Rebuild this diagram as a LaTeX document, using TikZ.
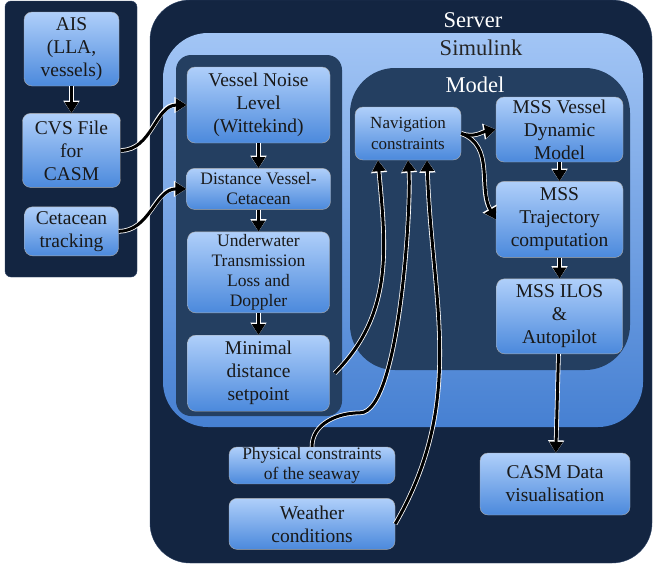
\documentclass[tikz,border=0pt]{standalone}
\usepackage{fontspec}
\setmainfont{Liberation Serif}
\usepackage{xcolor}
\usetikzlibrary{arrows.meta,positioning}

\definecolor{navy}{HTML}{132541}
\definecolor{navyrim}{HTML}{2E4466}
\definecolor{panel}{HTML}{243F61}
\definecolor{simtop}{HTML}{A2C5F5}
\definecolor{simbot}{HTML}{4680D2}
\definecolor{nodetop}{HTML}{AFCFFA}
\definecolor{nodebot}{HTML}{4B89DC}

\begin{document}
\begin{tikzpicture}[
      x=1pt, y=1pt,
      node distance=22pt and 30pt,
      box/.style={draw=gray!65, rounded corners=8pt, top color=nodetop, bottom color=nodebot, align=center, inner sep=0.5pt, text=black!90},
      big/.style={box, font=\fontsize{19.5}{23}\selectfont},
      small/.style={box, font=\fontsize{17.5}{20}\selectfont},
      title/.style={font=\fontsize{22.5}{26}\selectfont},
      halo/.style={-{Triangle[length=12.5pt,width=15.5pt]}, draw=white, line width=4.6pt},
      arr/.style={-{Triangle[length=11pt,width=13pt]}, draw=black, line width=3pt},
    ]
    \useasboundingbox[fill=white] (0,0) rectangle (653,-565);
    % panels
    \fill[navy, draw=navyrim, rounded corners=6pt] (5,-1) rectangle (137,-277);
    \fill[navy, draw=navyrim, rounded corners=40pt] (150,0) rectangle (652,-563);
    \shade[top color=simtop, bottom color=simbot, rounded corners=45pt] (163,-33) rectangle (643,-427);
    \fill[panel, rounded corners=15pt] (176,-55) rectangle (342,-416);
    \fill[panel, rounded corners=45pt] (350,-68) rectangle (630,-370);
    \node[title, text=white] (server) at (473,-20) {Server};
    \node[title, text=black!85] (simulink) at (481,-48) {Simulink};
    \node[title, text=white] (model) at (475,-85) {Model};
    % inputs
    \node[big, minimum width=95pt, minimum height=74pt] (ais) at (71.5,-49) {AIS\\(LLA,\\vessels)};
    \node[big, minimum width=98pt, minimum height=74pt, below=27pt of ais] (cvs) {CVS File\\for\\CASM};
    \node[big, minimum width=94pt, minimum height=49pt, below=19pt of cvs] (cet) {Cetacean\\tracking};
    % vessel chain
    \node[big, minimum width=143pt, minimum height=76pt] (noise) at (258.5,-105) {Vessel Noise\\Level\\(Wittekind)};
    \node[small, minimum width=144pt, minimum height=41pt, below=25pt of noise] (dist) {Distance Vessel-\\Cetacean};
    \node[small, minimum width=142pt, minimum height=81pt, below=of dist] (under) {Underwater\\Transmission\\Loss and\\Doppler};
    \node[big, minimum width=142pt, minimum height=76pt, below=of under] (minimal) {Minimal\\distance\\setpoint};
    % model
    \node[small, font=\fontsize{17}{21}\selectfont, minimum width=106pt, minimum height=53pt] (nav) at (408,-133.5) {Navigation\\constraints};
    \node[big, minimum width=127pt, minimum height=65pt] (mssv) at (559.5,-129.5) {MSS Vessel\\Dynamic\\Model};
    \node[big, minimum width=127pt, minimum height=76pt, below=19pt of mssv] (traj) {MSS\\Trajectory\\computation};
    \node[big, minimum width=126pt, minimum height=75pt, below=21pt of traj] (ilos) {MSS ILOS\\\&\\Autopilot};
    % outside simulink
    \node[small, minimum width=166pt, minimum height=35pt] (phys) at (312,-465.5) {Physical constraints\\of the seaway};
    \node[big, minimum width=166pt, minimum height=51pt, below=14pt of phys] (weather) {Weather\\conditions};
    \node[big, minimum width=150pt, minimum height=62pt] (casm) at (555,-484) {CASM Data\\visualisation};
    % connectors: white halo first, black arrow on top
    \foreach \st in {halo,arr} {
      \draw[\st] (ais) -- (cvs);
      \draw[\st] (cvs.east) to[out=0,in=180] (noise.west);
      \draw[\st] (cet.east) to[out=0,in=180] (dist.west);
      \draw[\st] (noise) -- (dist);
      \draw[\st] (dist) -- (under);
      \draw[\st] (under) -- (minimal);
      \draw[\st] ([xshift=5pt]minimal.east) to[out=45,in=-85] ([xshift=-30pt]nav.south);
      \draw[\st] (phys.north) to[out=90,in=180] ++(48,34) to[out=0,in=-85,looseness=0.4] (nav.south);
      \draw[\st] (weather.east) to[out=60,in=-88] ([xshift=19pt]nav.south);
      \draw[\st] (nav.east) to[out=-20,in=190] (mssv.west);
      \draw[\st] (nav.east) to[out=-20,in=120] (traj.west);
      \draw[\st] (mssv) -- (traj);
      \draw[\st] (traj) -- (ilos);
      \draw[\st] (ilos) -- (casm);
    }
  \end{tikzpicture}
\end{document}
